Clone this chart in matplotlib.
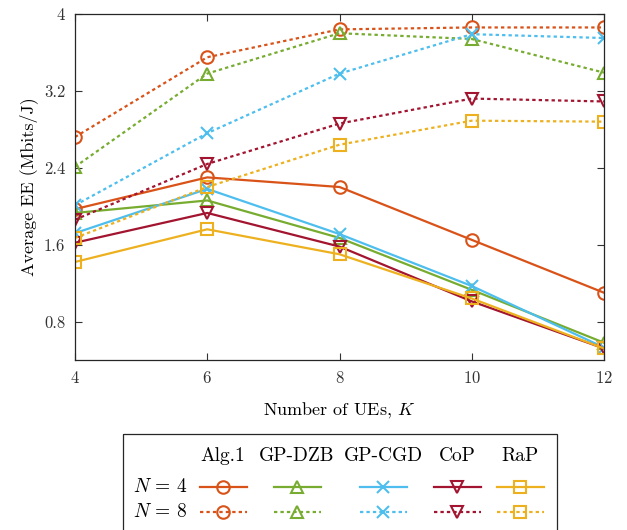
import matplotlib
matplotlib.use("Agg")
import matplotlib.pyplot as plt
from matplotlib.lines import Line2D
from matplotlib.patches import Rectangle

plt.rcParams['font.family'] = 'serif'
plt.rcParams['font.serif'] = ['cmr10']
plt.rcParams['mathtext.fontset'] = 'cm'
plt.rcParams['axes.unicode_minus'] = False
plt.rcParams['axes.formatter.use_mathtext'] = True

K = [4, 6, 8, 10, 12]
methods = ['Alg.1', 'GP-DZB', 'GP-CGD', 'CoP', 'RaP']
colors = ['#D95319', '#77AC30', '#4DBEEE', '#A2142F', '#EDB120']
markers = ['o', '^', 'x', 'v', 's']

ee_n4 = {
    'Alg.1':  [1.97, 2.30, 2.20, 1.65, 1.10],
    'GP-DZB': [1.93, 2.06, 1.67, 1.13, 0.58],
    'GP-CGD': [1.72, 2.18, 1.71, 1.17, 0.53],
    'CoP':    [1.62, 1.93, 1.58, 1.01, 0.52],
    'RaP':    [1.42, 1.76, 1.50, 1.04, 0.52],
}
ee_n8 = {
    'Alg.1':  [2.72, 3.55, 3.84, 3.86, 3.86],
    'GP-DZB': [2.41, 3.38, 3.80, 3.74, 3.39],
    'GP-CGD': [2.01, 2.76, 3.38, 3.79, 3.75],
    'CoP':    [1.86, 2.44, 2.86, 3.12, 3.09],
    'RaP':    [1.67, 2.20, 2.64, 2.89, 2.88],
}
yticks = [0.8, 1.6, 2.4, 3.2, 4.0]
ytick_labels = ['0.8', '1.6', '2.4', '3.2', '4']

W, H = 627, 530
fig = plt.figure(figsize=(W / 100, H / 100), dpi=100)
ax = fig.add_axes([75 / W, 1 - 360 / H, (604 - 75) / W, (360 - 14) / H])

dotted = (0, (1.5, 1.4))
lw = 1.6
mkw = dict(markersize=9, markerfacecolor='none', markeredgewidth=1.5)
for m, c, mk in zip(methods, colors, markers):
    ax.plot(K, ee_n4[m], color=c, marker=mk, linestyle='-', linewidth=lw, markeredgecolor=c, **mkw)
    ax.plot(K, ee_n8[m], color=c, marker=mk, linestyle=dotted, linewidth=lw, markeredgecolor=c, **mkw)

ax.set_xlim(4, 12)
ax.set_ylim(0.4, 4.0)
ax.set_xticks(K)
ax.set_yticks(yticks)
ax.set_yticklabels(ytick_labels)
ax.tick_params(direction='in', top=True, right=True, labelsize=12, colors='#333333', length=5, width=0.8, pad=7)
for s in ax.spines.values():
    s.set_color('#262626')
    s.set_linewidth(0.9)
ax.set_xlabel('Number of UEs, $K$', fontsize=13, labelpad=10)
ax.set_ylabel('Average EE (Mbits/J)', fontsize=13, labelpad=4)

# manual legend (table style)
lax = fig.add_axes([0, 0, 1, 1], facecolor='none')
lax.set_xlim(0, W)
lax.set_ylim(H, 0)
lax.axis('off')
lax.add_patch(Rectangle((123, 434), 434, 110, fill=False, edgecolor='#262626', linewidth=0.9, clip_on=False))
col_x = [223, 297, 383, 457, 520]
half = 23.5
row_y = [487, 512]
for m, cx in zip(methods, col_x):
    lax.text(cx, 456, m, ha='center', va='center', fontsize=14)
lax.text(160, row_y[0], r'$N\,=\,4$', ha='center', va='center', fontsize=14)
lax.text(160, row_y[1], r'$N\,=\,8$', ha='center', va='center', fontsize=14)
for c, mk, cx in zip(colors, markers, col_x):
    for ry, ls in zip(row_y, ['-', dotted]):
        lax.add_line(Line2D([cx - half, cx + half], [ry, ry], color=c, linestyle=ls, linewidth=lw))
        lax.add_line(Line2D([cx], [ry], color=c, marker=mk, markeredgecolor=c, linestyle='none', **mkw))

fig.savefig('out.png', dpi=100)
